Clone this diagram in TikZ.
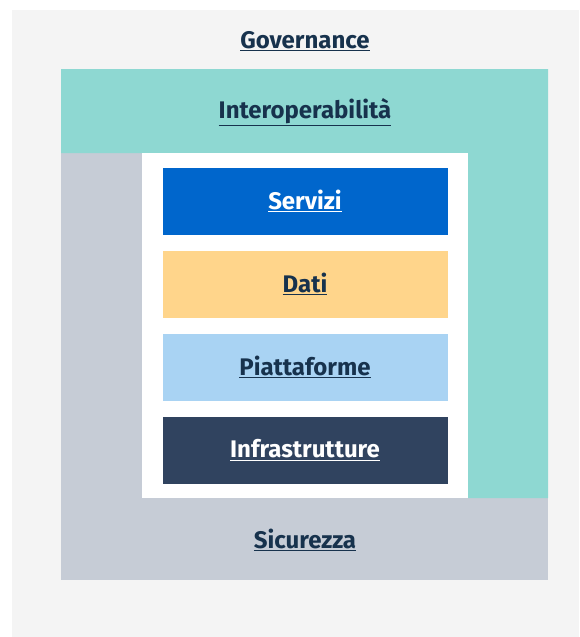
\documentclass[tikz,border=0pt]{standalone}
\usepackage{fontspec}
\setmainfont{Fira Sans}
\definecolor{bgGrey}{HTML}{F4F4F4}
\definecolor{teal}{HTML}{8ED8D2}
\definecolor{secGrey}{HTML}{C6CCD6}
\definecolor{servBlue}{HTML}{0066CC}
\definecolor{datiYellow}{HTML}{FFD58B}
\definecolor{piatBlue}{HTML}{A9D3F3}
\definecolor{infraNavy}{HTML}{30435F}
\definecolor{navyText}{HTML}{17324D}
\newcommand{\ulabel}[1]{\underline{#1}}
\begin{document}
\begin{tikzpicture}[x=1pt,y=-1pt,
  lbl/.style={font=\fontsize{24}{28}\selectfont\bfseries, text=navyText, inner sep=0pt},
  layer/.style={minimum width=285pt, minimum height=67pt, inner sep=0pt, draw=none,
    font=\fontsize{24}{28}\selectfont\bfseries},
  darklayer/.style={layer, text=white},
  lightlayer/.style={layer, text=navyText}]
\useasboundingbox (0,0) rectangle (579,637);
\fill[white] (0,0) rectangle (579,637);
\fill[bgGrey] (12,10) rectangle (579,637);
% Sicurezza region
\fill[secGrey] (61,153) rectangle (548,580);
% Interoperabilita region (inverted L)
\fill[teal] (61,69) -- (548,69) -- (548,498) -- (468,498) -- (468,153) -- (61,153) -- cycle;
% white core
\fill[white] (142,153) rectangle (468,498);
% layer boxes
\node[darklayer, fill=servBlue] (serv) at (305,201) {\ulabel{Servizi}};
\node[lightlayer, fill=datiYellow] (dati) at (305,284) {\ulabel{Dati}};
\node[lightlayer, fill=piatBlue] (piat) at (305,367) {\ulabel{Piattaforme}};
\node[darklayer, fill=infraNavy] (infra) at (305,450) {\ulabel{Infrastrutture}};
% outer labels
\node[lbl] (gov) at (305,41) {\ulabel{Governance}};
\node[lbl] (inter) at (305,112) {\ulabel{Interoperabilità}};
\node[lbl] (sic) at (305,540) {\ulabel{Sicurezza}};
\end{tikzpicture}
\end{document}
